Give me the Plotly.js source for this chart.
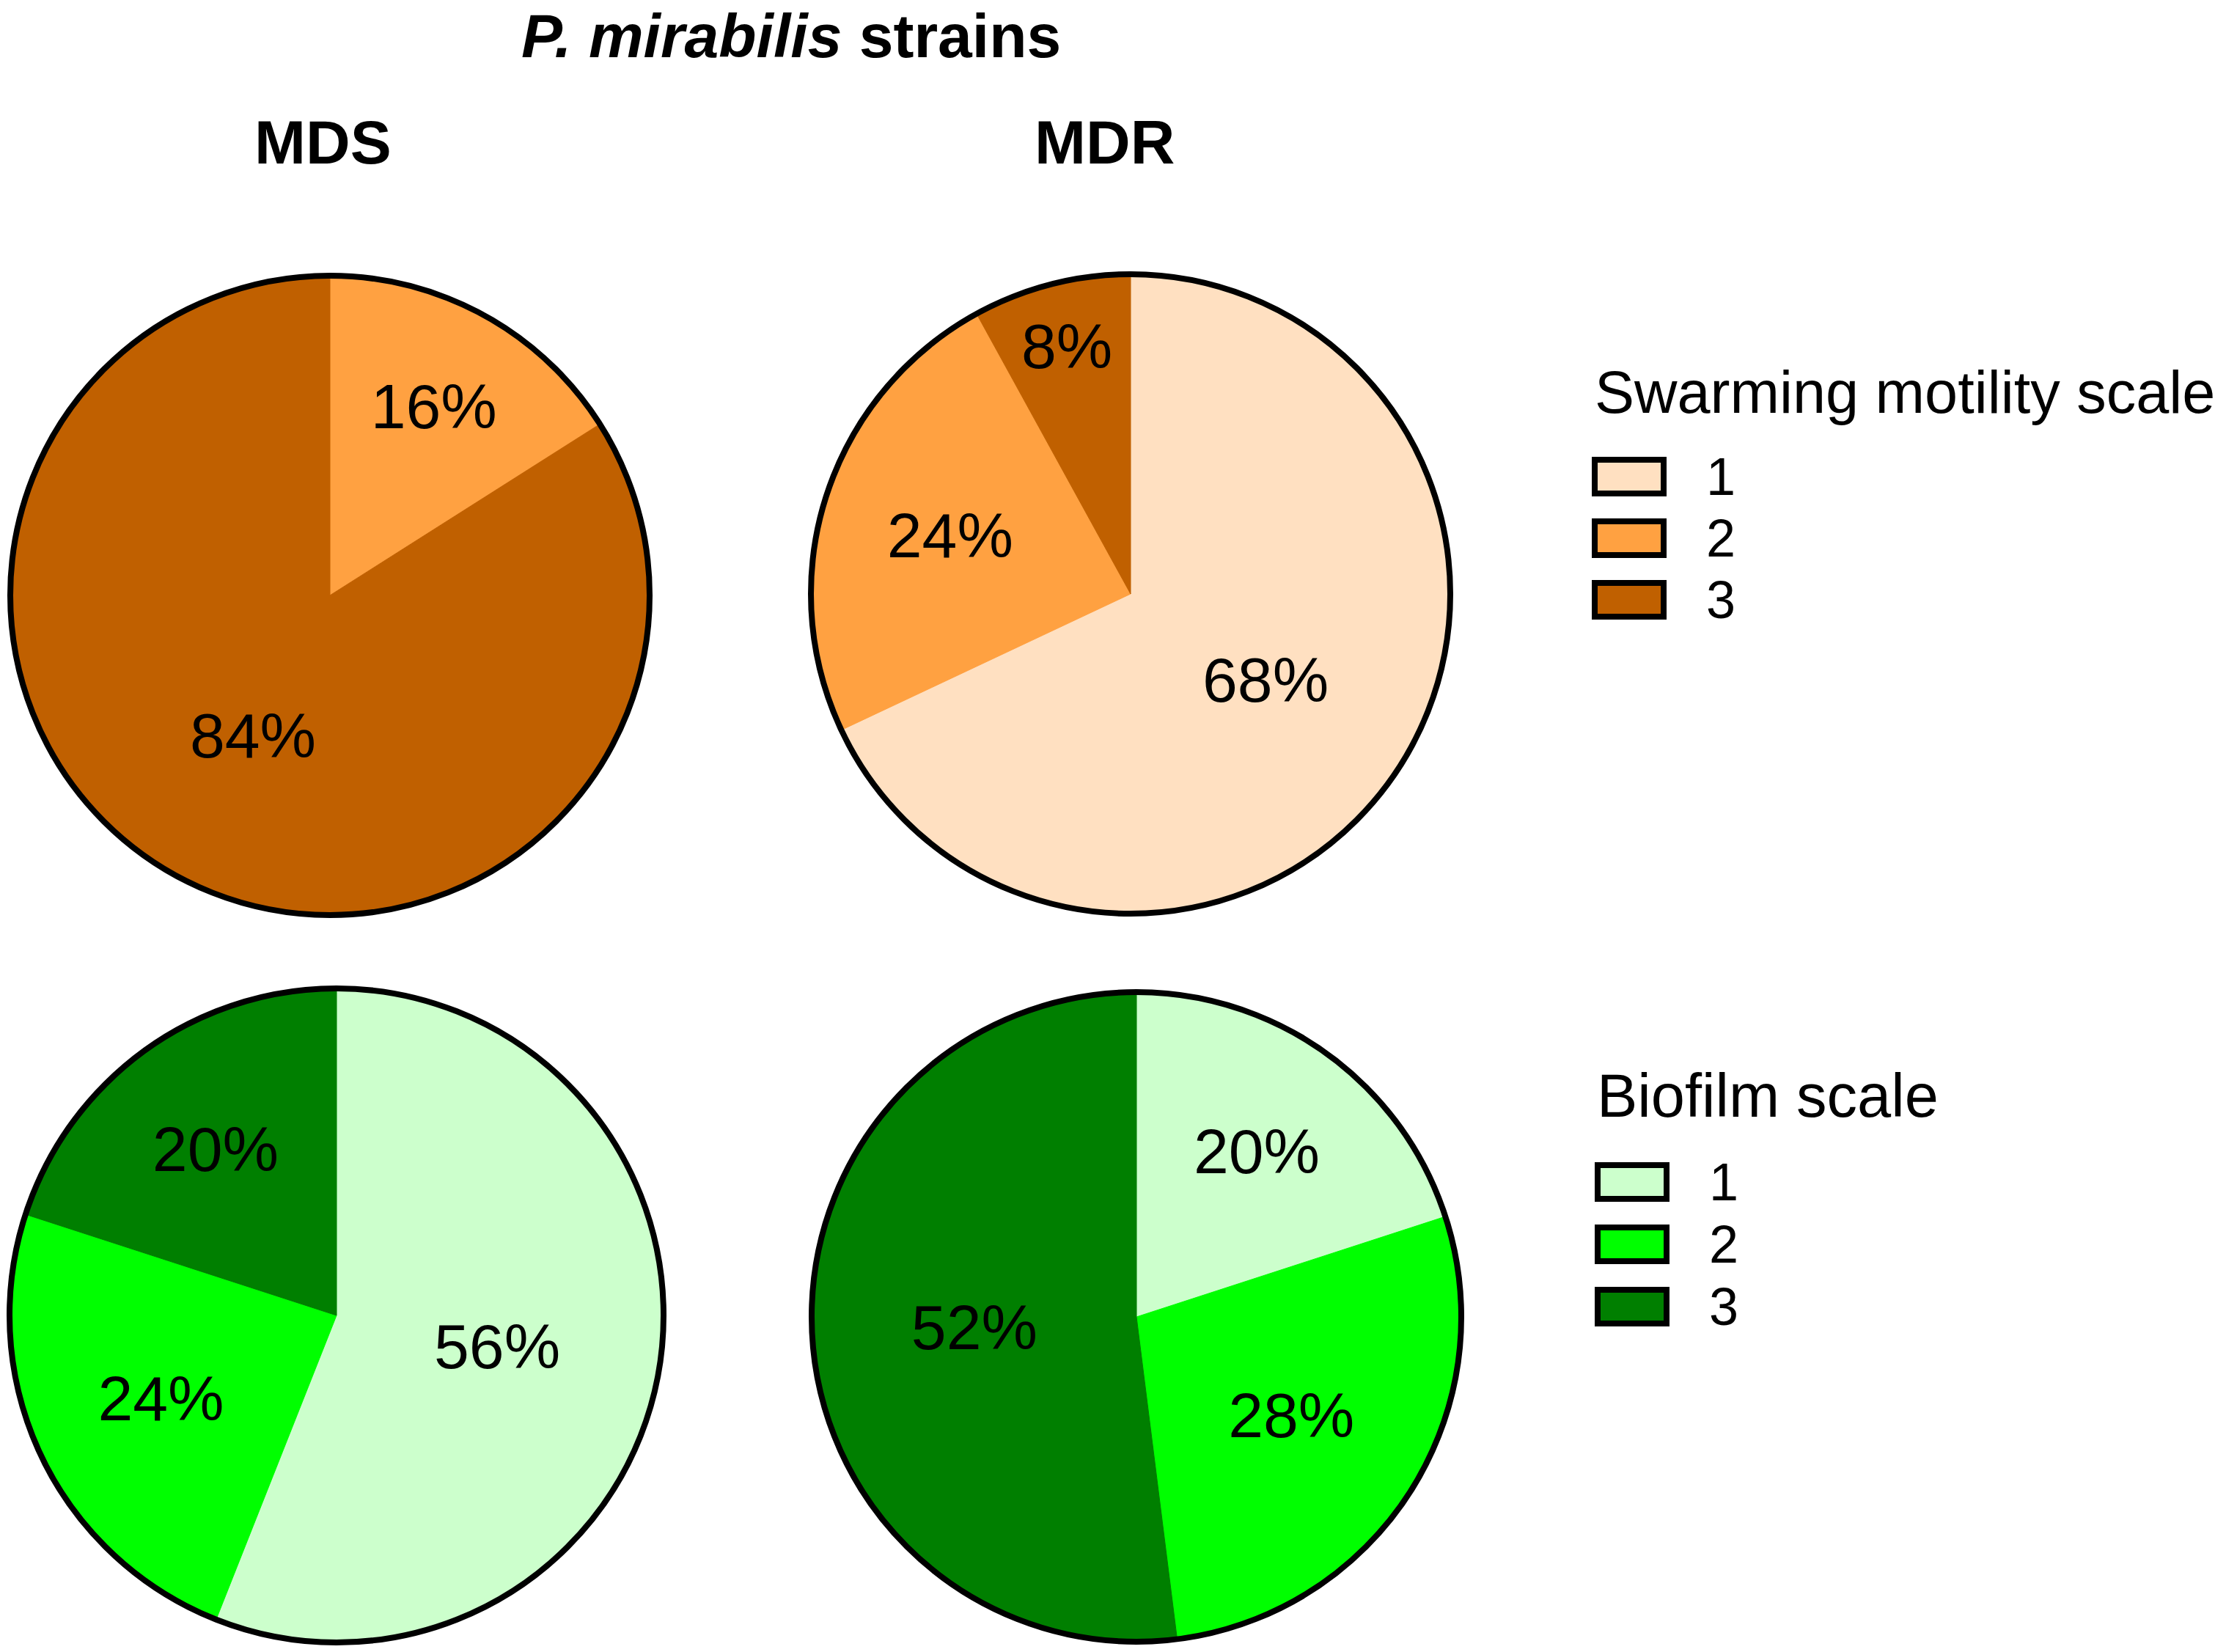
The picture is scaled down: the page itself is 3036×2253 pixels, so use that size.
<!DOCTYPE html>
<html>
<head>
<meta charset="utf-8">
<script src="https://cdn.plot.ly/plotly-3.0.1.min.js"></script>
<style>html,body{margin:0;padding:0;background:#fff;}#chart{width:3036px;height:2253px;}</style>
</head>
<body>
<div id="chart"></div>
<script>
// ---- data ----
const scaleLevels = ['1', '2', '3'];
const groupLabels = ['MDS', 'MDR'];
const mdsSwarming = [0, 16, 84];
const mdrSwarming = [68, 24, 8];
const mdsBiofilm = [56, 24, 20];
const mdrBiofilm = [20, 28, 52];
const chartTitle = '<b><i>P. mirabilis</i> strains</b>';
const legendTitles = ['Swarming motility scale', 'Biofilm scale'];

// ---- styles ----
const swarmColors = ['#FFE0C1', '#FFA141', '#C06000'];
const biofilmColors = ['#CCFFCC', '#00FF00', '#007F00'];
const W = 3036, H = 2253;
const FONT = 'Liberation Sans, Arial, sans-serif';

function px2domX(a, b) { return [a / W, b / W]; }
function px2domY(a, b) { return [1 - b / H, 1 - a / H]; }

// pie placement in pixels: [x0, x1, y0, y1]
const pieBoxes = [
  [14, 886, 376, 1248],     // MDS swarming
  [1106, 1978, 374, 1246],  // MDR swarming
  [13, 905, 1348, 2240],    // MDS biofilm
  [1107, 1993, 1353, 2239]  // MDR biofilm
];
const pieValues = [mdsSwarming, mdrSwarming, mdsBiofilm, mdrBiofilm];
const pieColors = [swarmColors, swarmColors, biofilmColors, biofilmColors];

const traces = [];
pieValues.forEach((vals, i) => {
  const b = pieBoxes[i];
  const dom = {x: px2domX(b[0], b[1]), y: px2domY(b[2], b[3])};
  traces.push({
    type: 'pie',
    labels: scaleLevels,
    values: vals,
    sort: false,
    direction: 'clockwise',
    rotation: 0,
    domain: dom,
    marker: {colors: pieColors[i], line: {color: pieColors[i], width: 1}},
    texttemplate: '%{value}%',
    textposition: 'inside',
    insidetextorientation: 'horizontal',
    textfont: {family: FONT, size: 86, color: '#000'},
    hoverinfo: 'label+percent',
    showlegend: false
  });
  // outer ring
  traces.push({
    type: 'pie',
    labels: ['ring'],
    values: [1],
    sort: false,
    domain: dom,
    marker: {colors: ['rgba(0,0,0,0)'], line: {color: '#000', width: 8}},
    textinfo: 'none',
    hoverinfo: 'skip',
    showlegend: false
  });
});

const annotations = [];
const shapes = [];
function ann(text, x, y, size, xanchor, yanchor) {
  annotations.push({
    text: text, xref: 'paper', yref: 'paper',
    x: x / W, y: 1 - y / H, xanchor: xanchor || 'center', yanchor: yanchor || 'middle',
    showarrow: false, borderpad: 0, font: {family: FONT, size: size, color: '#000'}
  });
}
ann(chartTitle, 1079, 1, 84, 'center', 'top');
ann('<b>' + groupLabels[0] + '</b>', 440, 194, 84);
ann('<b>' + groupLabels[1] + '</b>', 1506, 194, 84);

// legends
const legendDefs = [
  {title: legendTitles[0], size: 81, colors: swarmColors, tx: 2174, ty: 535, bx: 2222, by: [650, 734, 818], lx: 2326},
  {title: legendTitles[1], size: 83, colors: biofilmColors, tx: 2177, ty: 1494, bx: 2226, by: [1612, 1697, 1782], lx: 2330}
];
legendDefs.forEach(d => {
  ann(d.title, d.tx, d.ty, d.size, 'left');
  scaleLevels.forEach((lab, k) => {
    const cy = d.by[k];
    shapes.push({
      type: 'rect', xref: 'paper', yref: 'paper',
      x0: (d.bx - 47) / W, x1: (d.bx + 47) / W,
      y0: 1 - (cy + 23) / H, y1: 1 - (cy - 23) / H,
      fillcolor: d.colors[k], line: {color: '#000', width: 8}
    });
    ann(lab, d.lx, cy, 72, 'left');
  });
});

const layout = {
  width: W, height: H,
  margin: {l: 0, r: 0, t: 0, b: 0},
  paper_bgcolor: '#fff',
  plot_bgcolor: '#fff',
  showlegend: false,
  font: {family: FONT, color: '#000'},
  annotations: annotations,
  shapes: shapes
};

Plotly.newPlot('chart', traces, layout, {displayModeBar: false, staticPlot: true});
</script>
</body>
</html>
